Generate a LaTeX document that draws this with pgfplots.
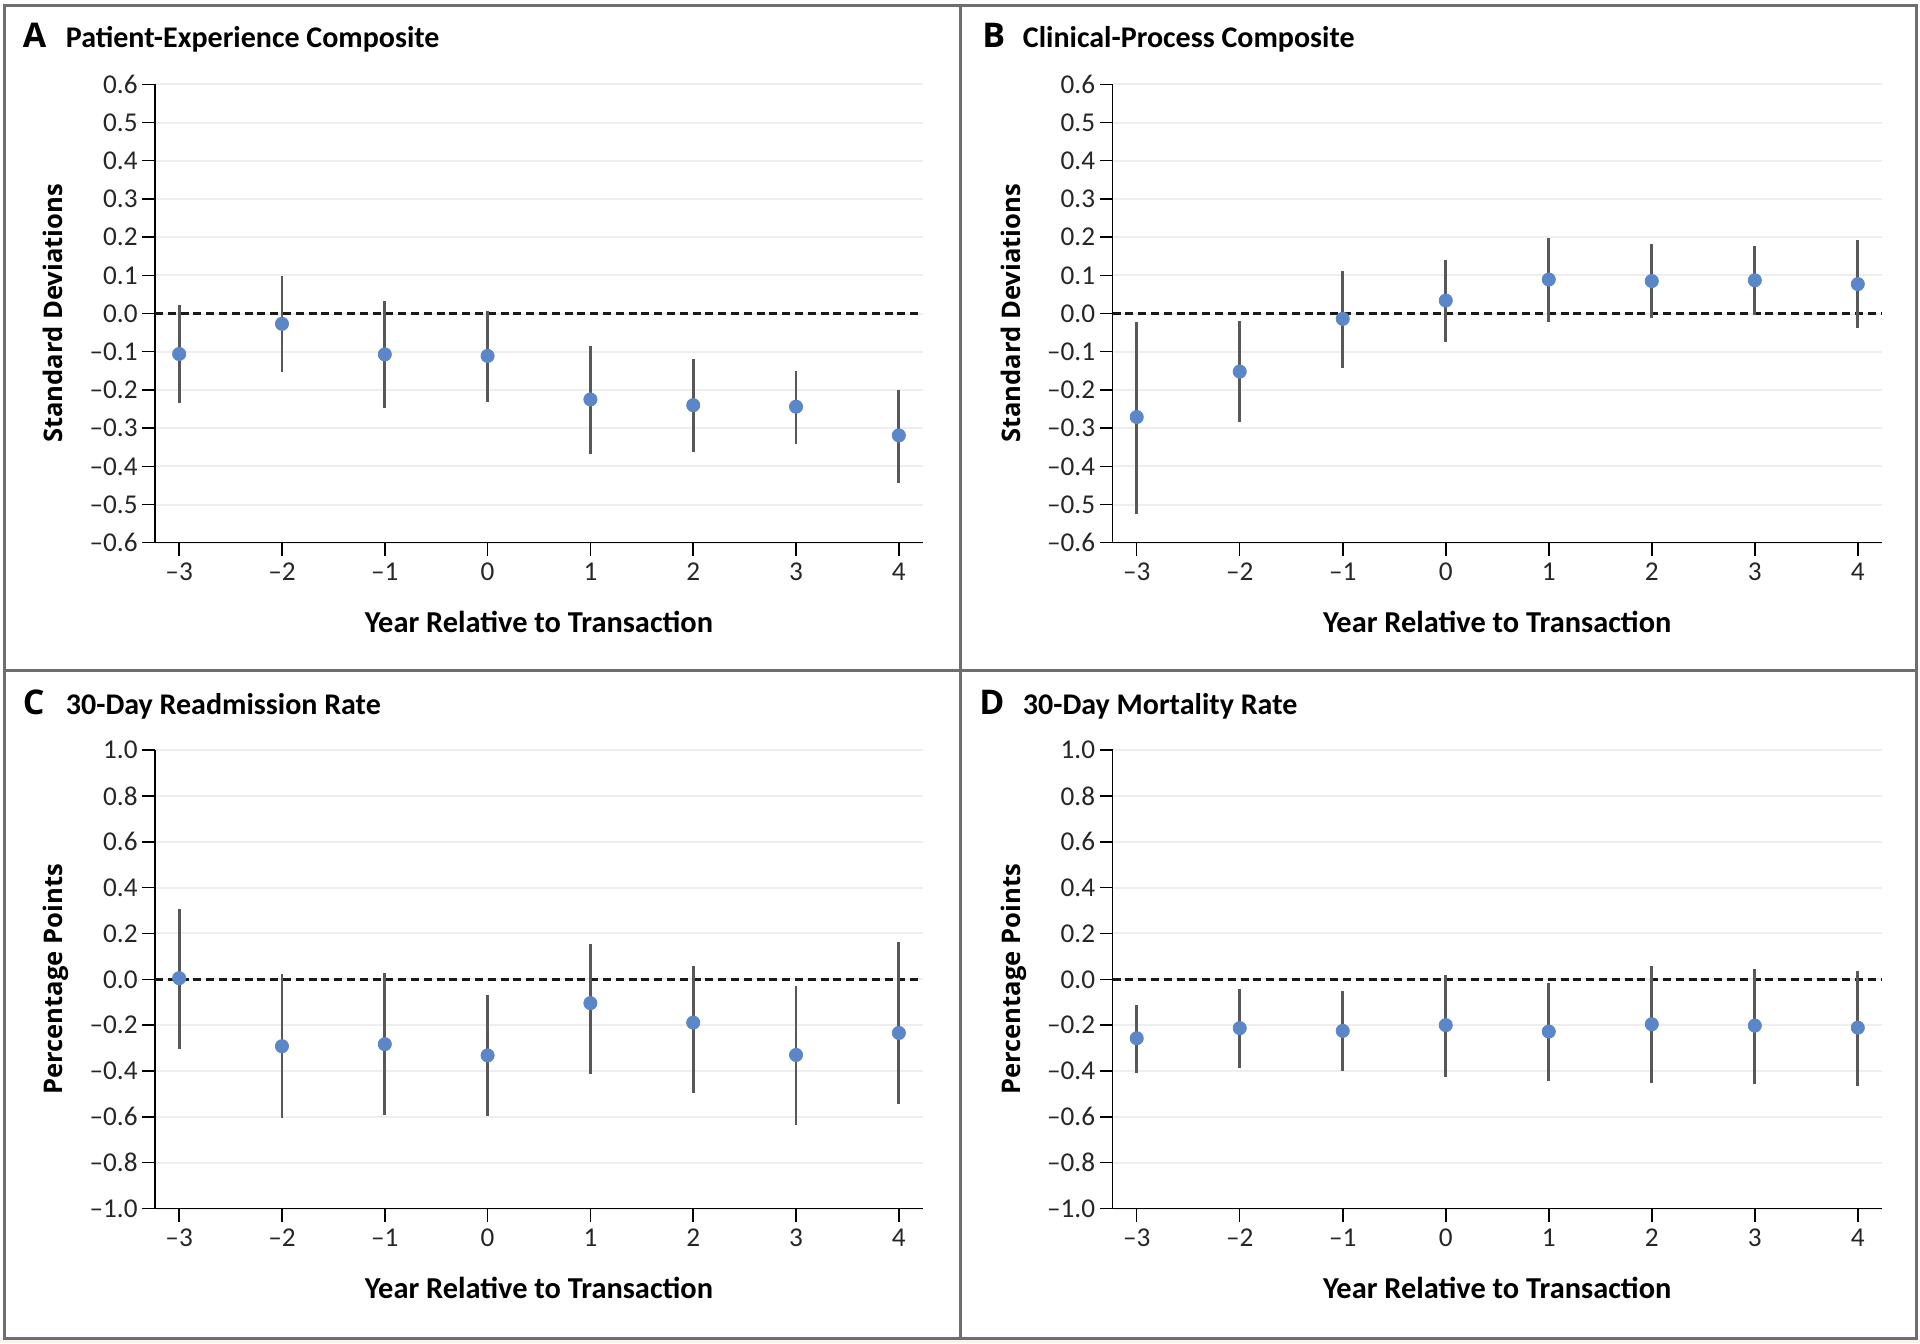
\documentclass[border=0pt]{standalone}
\usepackage{fontspec}
\setmainfont{Carlito}
\newfontfamily\labfont{Open Sans}
\usepackage{pgfplots}
\usepackage{pgfplotstable}
\pgfplotsset{compat=1.18}
\definecolor{dotblue}{RGB}{91,135,200}
\definecolor{bargray}{RGB}{88,88,88}
\definecolor{framegray}{RGB}{110,110,110}
\definecolor{gridgray}{RGB}{238,238,238}

\pgfplotstableread{
x y lo hi
-3 -0.106 -0.234 0.022
-2 -0.027 -0.154 0.097
-1 -0.107 -0.248 0.032
0 -0.111 -0.232 0.006
1 -0.225 -0.369 -0.086
2 -0.240 -0.363 -0.119
3 -0.244 -0.341 -0.150
4 -0.319 -0.444 -0.200
}\tabA
\pgfplotstableread{
x y lo hi
-3 -0.271 -0.524 -0.021
-2 -0.152 -0.285 -0.019
-1 -0.014 -0.142 0.111
0 0.034 -0.074 0.140
1 0.089 -0.022 0.197
2 0.085 -0.013 0.181
3 0.087 -0.005 0.178
4 0.077 -0.038 0.192
}\tabB
\pgfplotstableread{
x y lo hi
-3 0.005 -0.304 0.306
-2 -0.292 -0.604 0.023
-1 -0.283 -0.592 0.026
0 -0.332 -0.596 -0.070
1 -0.104 -0.411 0.155
2 -0.189 -0.498 0.057
3 -0.330 -0.636 -0.030
4 -0.234 -0.542 0.162
}\tabC
\pgfplotstableread{
x y lo hi
-3 -0.257 -0.409 -0.113
-2 -0.213 -0.387 -0.043
-1 -0.225 -0.402 -0.053
0 -0.200 -0.425 0.021
1 -0.228 -0.442 -0.015
2 -0.196 -0.451 0.057
3 -0.202 -0.455 0.047
4 -0.211 -0.464 0.038
}\tabD

\pgfplotsset{
  panel/.style={
    scale only axis,
    width=384pt,
    height=229.2pt,
    xmin=-3.235, xmax=4.235,
    axis x line*=bottom, axis y line*=left,
    axis line style={-, line width=0.75pt, black},
    tick align=outside,
    major tick length=6.5pt,
    tick style={line width=0.75pt, black},
    xtick={-3,-2,-1,0,1,2,3,4},
    xticklabels={\textendash3,\textendash2,\textendash1,0,1,2,3,4},
    ymajorgrids,
    grid style={gridgray, line width=1pt},
    ticklabel style={font=\fontsize{13.6}{15}\selectfont, text=black!85},
    yticklabel style={inner sep=2pt},
    xticklabel style={inner sep=3.5pt},
    xlabel={Year Relative to Transaction},
    xlabel style={font=\fontsize{15.2}{18}\selectfont\bfseries, at={(axis description cs:0.5,-0.196)}, anchor=base},
    ylabel style={font=\labfont\bfseries\fontsize{12.8}{15}\selectfont, at={(axis description cs:-0.1198,0.5)}, anchor=base},
  },
  sdaxis/.style={
    ymin=-0.6, ymax=0.6,
    ytick={-0.6,-0.5,-0.4,-0.3,-0.2,-0.1,0,0.1,0.2,0.3,0.4,0.5,0.6},
    yticklabels={\textendash0.6,\textendash0.5,\textendash0.4,\textendash0.3,\textendash0.2,\textendash0.1,0.0,0.1,0.2,0.3,0.4,0.5,0.6},
    ylabel={Standard Deviations},
  },
  ppaxis/.style={
    ymin=-1, ymax=1,
    ytick={-1,-0.8,-0.6,-0.4,-0.2,0,0.2,0.4,0.6,0.8,1},
    yticklabels={\textendash1.0,\textendash0.8,\textendash0.6,\textendash0.4,\textendash0.2,0.0,0.2,0.4,0.6,0.8,1.0},
    ylabel={Percentage Points},
  },
  estplot/.style={
    only marks, mark=*, mark size=3.3pt, color=dotblue,
    mark options={draw=dotblue, fill=dotblue},
    error bars/.cd, y dir=both, y explicit,
    error bar style={bargray, line width=1.4pt}, error mark=none,
  },
}

\newcommand{\zeroline}{\draw[black!90, line width=1.2pt, dash pattern=on 4pt off 2.4pt] (axis cs:-3.235,0) -- (axis cs:4.235,0);}
\newcommand{\estimates}[1]{\addplot[estplot] table[x=x, y=y, y error plus expr=\thisrow{hi}-\thisrow{y}, y error minus expr=\thisrow{y}-\thisrow{lo}] {#1};}

\begin{document}
\begin{tikzpicture}
\useasboundingbox (0,0) rectangle (960pt,-671.5pt);
\fill[white] (0,0) rectangle (960pt,-671.5pt);
\fill[color={rgb,255:red,247;green,244;blue,238}] (0,-669.5pt) rectangle (960pt,-671.5pt);

% Panel A
\begin{axis}[panel, sdaxis, at={(77.5pt,-271.35pt)}, anchor=south west]
\zeroline
\estimates{\tabA}
\end{axis}
% Panel B
\begin{axis}[panel, sdaxis, width=384.75pt, at={(556.25pt,-271.35pt)}, anchor=south west]
\zeroline
\estimates{\tabB}
\end{axis}
% Panel C
\begin{axis}[panel, ppaxis, at={(77.5pt,-604.25pt)}, anchor=south west]
\zeroline
\estimates{\tabC}
\end{axis}
% Panel D
\begin{axis}[panel, ppaxis, width=384.75pt, at={(556.25pt,-604.25pt)}, anchor=south west]
\zeroline
\estimates{\tabD}
\end{axis}

% Titles
\begin{scope}[every node/.style={anchor=base west, inner sep=0pt, font=\fontsize{15}{18}\selectfont\bfseries}]
\node at (32.75pt,-24pt) {Patient-Experience Composite};
\node at (511.25pt,-24pt) {Clinical-Process Composite};
\node at (32.75pt,-357pt) {30-Day Readmission Rate};
\node at (511.25pt,-357pt) {30-Day Mortality Rate};
\end{scope}
\begin{scope}[every node/.style={anchor=base west, inner sep=0pt, font=\labfont\bfseries\fontsize{17}{20}\selectfont}]
\node at (11.2pt,-24pt) {A};
\node at (491pt,-24pt) {B};
\node at (11.2pt,-357pt) {C};
\node at (489.5pt,-357pt) {D};
\end{scope}

% Frame
\draw[framegray, line width=1.5pt] (2.25pt,-2.75pt) rectangle (958.25pt,-669.25pt);
\draw[framegray, line width=1.5pt] (480.25pt,-2.75pt) -- (480.25pt,-669.25pt);
\draw[framegray, line width=1.5pt] (2.25pt,-335pt) -- (958.25pt,-335pt);
\end{tikzpicture}
\end{document}
